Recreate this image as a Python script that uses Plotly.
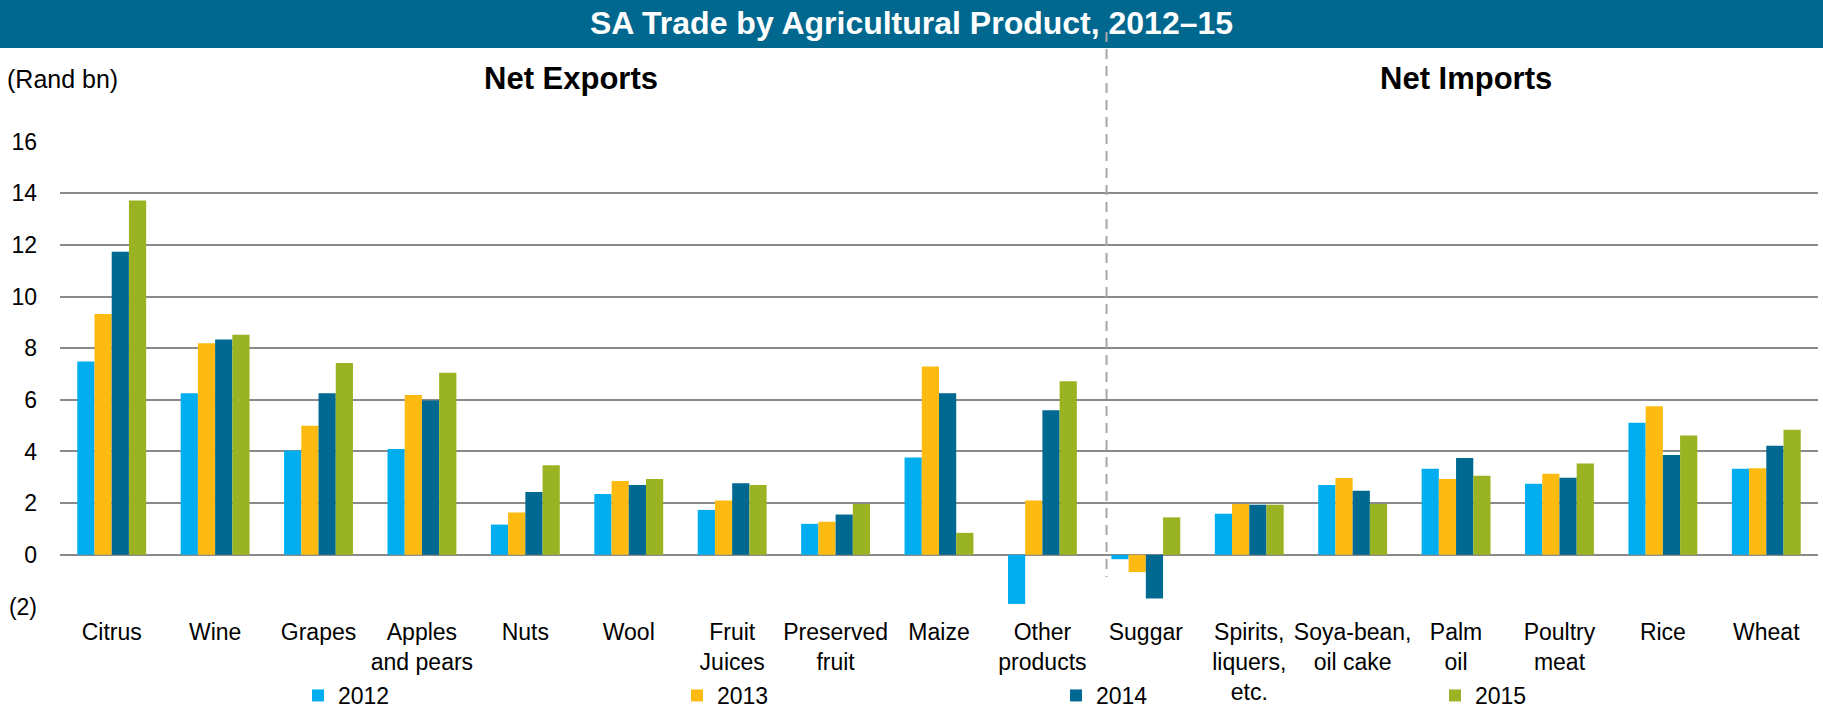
import plotly.graph_objects as go

# Net trade by agricultural product, Rand bn
products = [
    "Citrus", "Wine", "Grapes", "Apples<br>and pears", "Nuts", "Wool",
    "Fruit<br>Juices", "Preserved<br>fruit", "Maize", "Other<br>products",
    "Suggar", "Spirits,<br>liquers,<br>etc.", "Soya-bean,<br>oil cake",
    "Palm<br>oil", "Poultry<br>meat", "Rice", "Wheat",
]
years = ["2012", "2013", "2014", "2015"]
v2012 = [7.48, 6.25, 4.04, 4.10, 1.17, 2.35, 1.74, 1.20, 3.77, -1.90,
         -0.17, 1.59, 2.70, 3.33, 2.75, 5.11, 3.33]
v2013 = [9.32, 8.19, 5.00, 6.19, 1.64, 2.86, 2.10, 1.28, 7.29, 2.10,
         -0.67, 1.97, 2.97, 2.94, 3.14, 5.75, 3.35]
v2014 = [11.73, 8.34, 6.25, 5.97, 2.43, 2.70, 2.77, 1.56, 6.25, 5.60,
         -1.69, 1.94, 2.48, 3.75, 2.98, 3.86, 4.22]
v2015 = [13.72, 8.52, 7.43, 7.05, 3.47, 2.94, 2.70, 1.97, 0.85, 6.72,
         1.45, 1.94, 1.97, 3.06, 3.54, 4.62, 4.84]
series = [v2012, v2013, v2014, v2015]

y_tickvals = [-2, 0, 2, 4, 6, 8, 10, 12, 14, 16]
y_ticktext = ["(2)", "0", "2", "4", "6", "8", "10", "12", "14", "16"]

colors = ["#00AEEF", "#FDBB11", "#006991", "#9AB322"]
FONT = "Liberation Sans, Arial, sans-serif"

W, H = 1823, 715
ML, MR, MT, MB = 60, 5, 141, 108
PW, PH = W - ML - MR, H - MT - MB


def px_x(x):
    return (x - ML) / PW


def px_y(y):
    return (H - MB - y) / PH


fig = go.Figure()
for name, vals, col in zip(years, series, colors):
    fig.add_trace(go.Bar(x=products, y=vals, name=name, marker_color=col,
                         marker_line_width=0))

shapes = [
    # header band
    dict(type="rect", xref="paper", yref="paper",
         x0=px_x(0), x1=px_x(W), y0=px_y(48), y1=px_y(0),
         fillcolor="#00688F", line_width=0, layer="above"),
    # exports / imports divider
    dict(type="line", xref="x", yref="paper", x0=9.62, x1=9.62,
         y0=px_y(32), y1=px_y(577),
         line=dict(color="#A6A6A6", width=2, dash="10px,7px"), layer="above"),
]

annotations = [
    dict(text="(Rand bn)", xref="paper", yref="paper", x=px_x(5), y=px_y(79),
         xanchor="left", yanchor="middle", showarrow=False,
         font=dict(family=FONT, size=25, color="black")),
    dict(text="<b>Net Exports</b>", xref="paper", yref="paper", x=px_x(571),
         y=px_y(79), xanchor="center", yanchor="middle", showarrow=False,
         font=dict(family=FONT, size=31, color="black")),
    dict(text="<b>Net Imports</b>", xref="paper", yref="paper", x=px_x(1466),
         y=px_y(79), xanchor="center", yanchor="middle", showarrow=False,
         font=dict(family=FONT, size=31, color="black")),
]

fig.update_layout(
    width=W, height=H,
    margin=dict(l=ML, r=MR, t=MT, b=MB, autoexpand=False),
    paper_bgcolor="white", plot_bgcolor="white",
    barmode="group", bargap=0.334, bargroupgap=0,
    title=dict(text="<b>SA Trade by Agricultural Product, 2012\u201315</b>",
               x=0.5, xanchor="center", y=1 - 23 / H, yanchor="middle",
               yref="container",
               font=dict(family=FONT, size=32, color="white")),
    font=dict(family=FONT, size=23, color="black"),
    shapes=shapes,
    annotations=annotations,
    showlegend=True,
    legend=dict(orientation="h", x=px_x(298), xanchor="left",
                y=px_y(674), yanchor="top",
                entrywidth=334, entrywidthmode="pixels",
                font=dict(family=FONT, size=23, color="black"),
                bgcolor="rgba(0,0,0,0)"),
)

fig.update_xaxes(showgrid=False, showline=False, ticks="",
                 tickfont=dict(family=FONT, size=23, color="black"),
                 ticklabelstandoff=9, tickangle=0)
fig.update_yaxes(range=[-2.02, 16.02], tickvals=y_tickvals, ticktext=y_ticktext,
                 showgrid=True, gridcolor="#8A8A8A", gridwidth=2,
                 zeroline=True, zerolinecolor="#8A8A8A", zerolinewidth=2,
                 showline=False, ticks="",
                 tickfont=dict(family=FONT, size=23, color="black"),
                 ticklabelstandoff=22)

fig.write_html("out.html")
